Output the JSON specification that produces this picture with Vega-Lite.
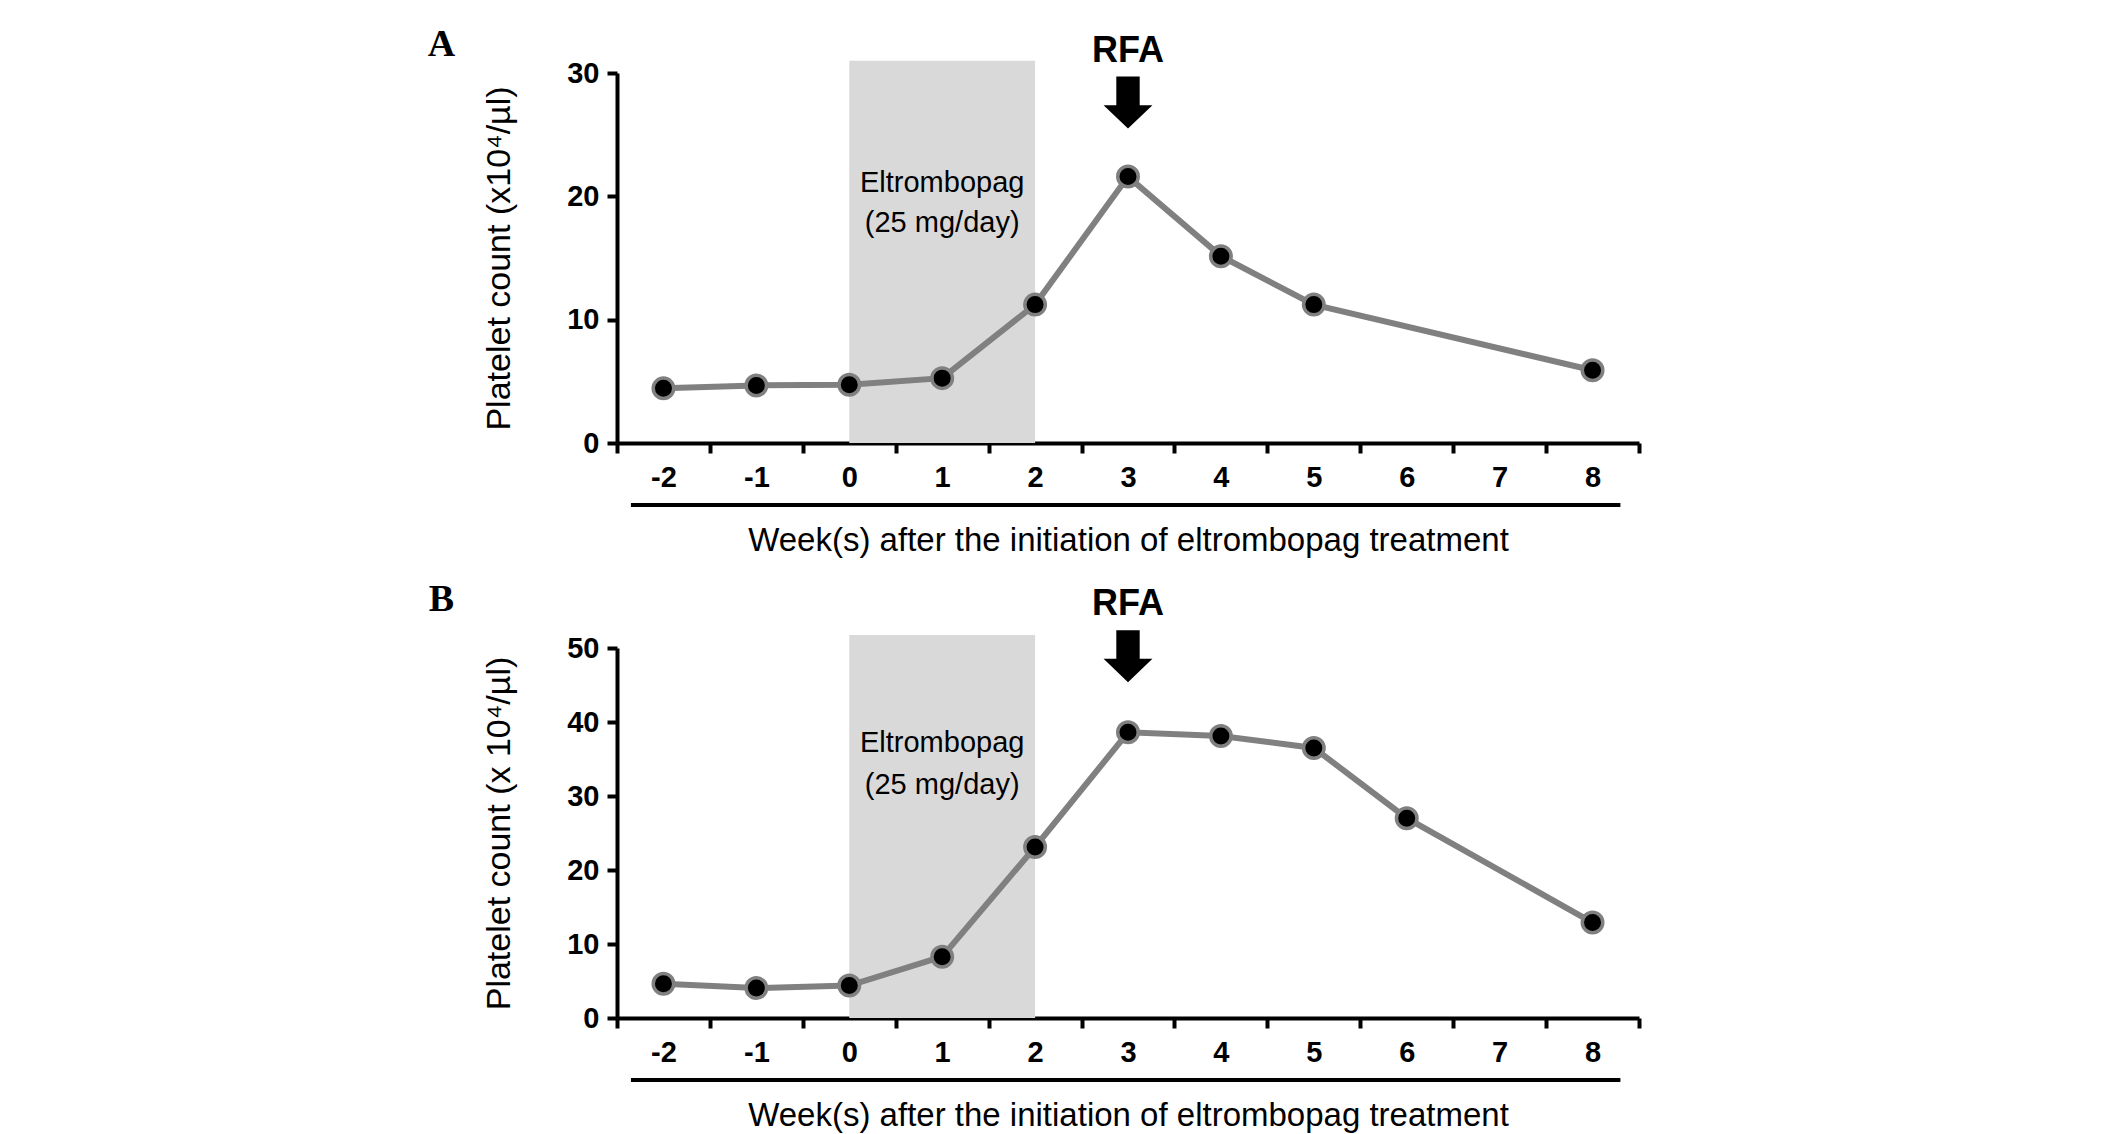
{
  "$schema": "https://vega.github.io/schema/vega-lite/v6.json",
  "background": "white",
  "padding": {"left": 427, "top": 25, "right": 5, "bottom": 5},
  "spacing": 23,
  "config": {
    "view": {"stroke": null},
    "font": "Liberation Sans",
    "axis": {
      "grid": false,
      "domainColor": "black",
      "domainWidth": 4,
      "tickColor": "black",
      "tickWidth": 4,
      "tickSize": 10,
      "labelFont": "Liberation Sans",
      "labelFontWeight": "bold",
      "labelFontSize": 29,
      "labelColor": "black",
      "titleFont": "Liberation Sans",
      "titleFontWeight": "normal",
      "titleColor": "black"
    },
    "axisX": {"labelPadding": 10, "titlePadding": 32, "titleFontSize": 33, "labelAngle": 0},
    "axisY": {"labelPadding": 8, "titlePadding": 50, "titleFontSize": 34}
  },
  "datasets": {
    "panelA": [
      {"week": -2, "count": 4.43},
      {"week": -1, "count": 4.67},
      {"week": 0, "count": 4.72},
      {"week": 1, "count": 5.26},
      {"week": 2, "count": 11.22},
      {"week": 3, "count": 21.6},
      {"week": 4, "count": 15.15},
      {"week": 5, "count": 11.22},
      {"week": 8, "count": 5.9}
    ],
    "panelB": [
      {"week": -2, "count": 4.62},
      {"week": -1, "count": 4.04},
      {"week": 0, "count": 4.38},
      {"week": 1, "count": 8.28},
      {"week": 2, "count": 23.1},
      {"week": 3, "count": 38.6},
      {"week": 4, "count": 38.1},
      {"week": 5, "count": 36.5},
      {"week": 6, "count": 27.0},
      {"week": 8, "count": 12.9}
    ]
  },
  "vconcat": [
    {
      "width": 1022,
      "height": 370,
      "resolve": {"scale": {"x": "independent"}, "axis": {"x": "independent", "y": "independent"}},
      "layer": [
        {
          "data": {"values": [{"start": 0, "end": 2, "top": 31.0}]},
          "mark": {"type": "rect", "color": "#d9d9d9"},
          "encoding": {
            "x": {"field": "start", "type": "quantitative", "scale": {"domain": [-2.5, 8.5], "nice": false, "zero": false}, "axis": null},
            "x2": {"field": "end"},
            "y": {"field": "top", "type": "quantitative", "scale": {"domain": [0, 30]}, "axis": null},
            "y2": {"datum": 0}
          }
        },
        {
          "data": {"values": [{}]},
          "mark": {"type": "rule", "color": "black", "strokeWidth": 4},
          "encoding": {
            "x": {"datum": -2.35, "type": "quantitative", "scale": {"domain": [-2.5, 8.5], "nice": false, "zero": false}, "axis": null},
            "x2": {"datum": 8.3},
            "y": {"datum": -5.03, "type": "quantitative", "scale": {"domain": [0, 30]}, "axis": null}
          }
        },
        {
          "data": {"values": [{"x": 1, "y": 21.1, "label": "Eltrombopag"}, {"x": 1, "y": 17.8, "label": "(25 mg/day)"}]},
          "mark": {"type": "text", "fontSize": 29, "font": "Liberation Sans", "color": "black", "baseline": "middle", "align": "center"},
          "encoding": {
            "x": {"field": "x", "type": "quantitative", "scale": {"domain": [-2.5, 8.5], "nice": false, "zero": false}, "axis": null},
            "y": {"field": "y", "type": "quantitative", "scale": {"domain": [0, 30]}, "axis": null},
            "text": {"field": "label"}
          }
        },
        {
          "data": {"values": [{"x": 3, "y": 31.8, "label": "RFA"}]},
          "mark": {"type": "text", "fontSize": 36, "fontWeight": "bold", "font": "Liberation Sans", "color": "black", "baseline": "middle", "align": "center"},
          "encoding": {
            "x": {"field": "x", "type": "quantitative", "scale": {"domain": [-2.5, 8.5], "nice": false, "zero": false}, "axis": null},
            "y": {"field": "y", "type": "quantitative", "scale": {"domain": [0, 30]}, "axis": null},
            "text": {"field": "label"}
          }
        },
        {
          "data": {"values": [{"x": -4.39, "y": 32.3, "label": "A"}]},
          "mark": {"type": "text", "fontSize": 38, "fontWeight": "bold", "font": "Liberation Serif", "color": "black", "baseline": "middle", "align": "center"},
          "encoding": {
            "x": {"field": "x", "type": "quantitative", "scale": {"domain": [-2.5, 8.5], "nice": false, "zero": false}, "axis": null},
            "y": {"field": "y", "type": "quantitative", "scale": {"domain": [0, 30]}, "axis": null},
            "text": {"field": "label"}
          }
        },
        {
          "data": {"values": [{"x": 3, "y": 27.6}]},
          "mark": {"type": "point", "filled": true, "color": "black", "opacity": 1, "size": 2704, "shape": "M-0.45,-1L0.45,-1L0.45,0.1L0.94,0.1L0,1L-0.94,0.1L-0.45,0.1Z"},
          "encoding": {
            "x": {"field": "x", "type": "quantitative", "scale": {"domain": [-2.5, 8.5], "nice": false, "zero": false}, "axis": null},
            "y": {"field": "y", "type": "quantitative", "scale": {"domain": [0, 30]}, "axis": null}
          }
        },
        {
          "data": {"name": "panelA"},
          "encoding": {
            "x": {
              "field": "week", "type": "ordinal", "bandPosition": 0.5,
              "scale": {"type": "band", "domain": [-2, -1, 0, 1, 2, 3, 4, 5, 6, 7, 8], "paddingInner": 0, "paddingOuter": 0},
              "axis": {"title": "Week(s) after the initiation of eltrombopag treatment", "tickBand": "extent"}
            },
            "y": {
              "field": "count", "type": "quantitative",
              "scale": {"domain": [0, 30]},
              "axis": {"values": [0, 10, 20, 30], "title": "Platelet count (x10⁴/µl)"}
            }
          },
          "layer": [
            {"mark": {"type": "line", "color": "#808080", "strokeWidth": 6}},
            {"mark": {"type": "point", "filled": true, "fill": "black", "stroke": "#808080", "strokeWidth": 3.5, "size": 420, "opacity": 1}}
          ]
        }
      ]
    },
    {
      "width": 1022,
      "height": 370,
      "resolve": {"scale": {"x": "independent"}, "axis": {"x": "independent", "y": "independent"}},
      "layer": [
        {
          "data": {"values": [{"start": 0, "end": 2, "top": 51.75}]},
          "mark": {"type": "rect", "color": "#d9d9d9"},
          "encoding": {
            "x": {"field": "start", "type": "quantitative", "scale": {"domain": [-2.5, 8.5], "nice": false, "zero": false}, "axis": null},
            "x2": {"field": "end"},
            "y": {"field": "top", "type": "quantitative", "scale": {"domain": [0, 50]}, "axis": null},
            "y2": {"datum": 0}
          }
        },
        {
          "data": {"values": [{}]},
          "mark": {"type": "rule", "color": "black", "strokeWidth": 4},
          "encoding": {
            "x": {"datum": -2.35, "type": "quantitative", "scale": {"domain": [-2.5, 8.5], "nice": false, "zero": false}, "axis": null},
            "x2": {"datum": 8.3},
            "y": {"datum": -8.38, "type": "quantitative", "scale": {"domain": [0, 50]}, "axis": null}
          }
        },
        {
          "data": {"values": [{"x": 1, "y": 37.2, "label": "Eltrombopag"}, {"x": 1, "y": 31.5, "label": "(25 mg/day)"}]},
          "mark": {"type": "text", "fontSize": 29, "font": "Liberation Sans", "color": "black", "baseline": "middle", "align": "center"},
          "encoding": {
            "x": {"field": "x", "type": "quantitative", "scale": {"domain": [-2.5, 8.5], "nice": false, "zero": false}, "axis": null},
            "y": {"field": "y", "type": "quantitative", "scale": {"domain": [0, 50]}, "axis": null},
            "text": {"field": "label"}
          }
        },
        {
          "data": {"values": [{"x": 3, "y": 56.0, "label": "RFA"}]},
          "mark": {"type": "text", "fontSize": 36, "fontWeight": "bold", "font": "Liberation Sans", "color": "black", "baseline": "middle", "align": "center"},
          "encoding": {
            "x": {"field": "x", "type": "quantitative", "scale": {"domain": [-2.5, 8.5], "nice": false, "zero": false}, "axis": null},
            "y": {"field": "y", "type": "quantitative", "scale": {"domain": [0, 50]}, "axis": null},
            "text": {"field": "label"}
          }
        },
        {
          "data": {"values": [{"x": -4.39, "y": 56.5, "label": "B"}]},
          "mark": {"type": "text", "fontSize": 38, "fontWeight": "bold", "font": "Liberation Serif", "color": "black", "baseline": "middle", "align": "center"},
          "encoding": {
            "x": {"field": "x", "type": "quantitative", "scale": {"domain": [-2.5, 8.5], "nice": false, "zero": false}, "axis": null},
            "y": {"field": "y", "type": "quantitative", "scale": {"domain": [0, 50]}, "axis": null},
            "text": {"field": "label"}
          }
        },
        {
          "data": {"values": [{"x": 3, "y": 48.9}]},
          "mark": {"type": "point", "filled": true, "color": "black", "opacity": 1, "size": 2704, "shape": "M-0.45,-1L0.45,-1L0.45,0.1L0.94,0.1L0,1L-0.94,0.1L-0.45,0.1Z"},
          "encoding": {
            "x": {"field": "x", "type": "quantitative", "scale": {"domain": [-2.5, 8.5], "nice": false, "zero": false}, "axis": null},
            "y": {"field": "y", "type": "quantitative", "scale": {"domain": [0, 50]}, "axis": null}
          }
        },
        {
          "data": {"name": "panelB"},
          "encoding": {
            "x": {
              "field": "week", "type": "ordinal", "bandPosition": 0.5,
              "scale": {"type": "band", "domain": [-2, -1, 0, 1, 2, 3, 4, 5, 6, 7, 8], "paddingInner": 0, "paddingOuter": 0},
              "axis": {"title": "Week(s) after the initiation of eltrombopag treatment", "tickBand": "extent"}
            },
            "y": {
              "field": "count", "type": "quantitative",
              "scale": {"domain": [0, 50]},
              "axis": {"values": [0, 10, 20, 30, 40, 50], "title": "Platelet count (x 10⁴/µl)"}
            }
          },
          "layer": [
            {"mark": {"type": "line", "color": "#808080", "strokeWidth": 6}},
            {"mark": {"type": "point", "filled": true, "fill": "black", "stroke": "#808080", "strokeWidth": 3.5, "size": 420, "opacity": 1}}
          ]
        }
      ]
    }
  ]
}
